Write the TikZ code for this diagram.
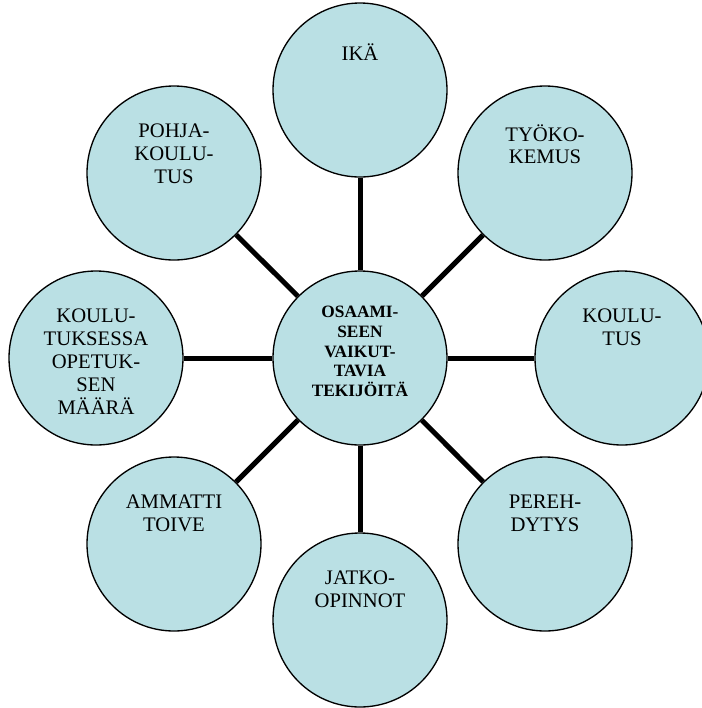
\documentclass[tikz,border=0pt]{standalone}
\usepackage{fontspec}
\setmainfont{Liberation Serif}
\usetikzlibrary{positioning,backgrounds}
\definecolor{bubfill}{RGB}{186,224,228}
\tikzset{
  bub/.style={circle, draw, line width=1pt, fill=bubfill, minimum size=130.5pt, inner sep=0pt},
  lbl/.style={font=\fontsize{15.5}{17.2}\selectfont, align=center, inner sep=0pt},
  hublbl/.style={font=\fontsize{13}{14.8}\selectfont\bfseries, align=center, inner sep=0pt},
  spoke/.style={line width=3.75pt},
}

\begin{document}
\begin{tikzpicture}[x=0.75pt, y=-0.75pt]
\useasboundingbox (0,0) rectangle (701,708);

% circles
\node[bub] (hub) at (360,358) {};
\node[bub] (ika) at (360,90) {};
\node[bub] (tyo) at (545,173) {};
\node[bub] (kou) at (622,358) {};
\node[bub] (pere) at (545,544) {};
\node[bub] (jat) at (360,620) {};
\node[bub] (amm) at (174,544) {};
\node[bub] (ope) at (96,358) {};
\node[bub] (poh) at (174,173) {};

% texts
\node[hublbl, below=26.6pt of hub.north] (hubT) {OSAAMI-\\SEEN\\VAIKUT-\\TAVIA\\TEKIJÖITÄ};
\node[lbl, below=30.5pt of ika.north] (ikaT) {IKÄ};
\node[lbl, below=29pt of tyo.north] (tyoT) {TYÖKO-\\KEMUS};
\node[lbl, below=29pt of kou.north] (kouT) {KOULU-\\TUS};
\node[lbl, below=29pt of pere.north] (pereT) {PEREH-\\DYTYS};
\node[lbl, below=29pt of jat.north] (jatT) {JATKO-\\OPINNOT};
\node[lbl, below=29pt of amm.north] (ammT) {AMMATTI\\TOIVE};
\node[lbl, below=29pt of ope.north] (opeT) {KOULU-\\TUKSESSA\\OPETUK-\\SEN\\MÄÄRÄ};
\node[lbl, below=29pt of poh.north] (pohT) {POHJA-\\KOULU-\\TUS};

% spokes
\begin{scope}[on background layer]
\foreach \n in {ika,tyo,kou,pere,jat,amm,ope,poh} \draw[spoke] (hub) -- (\n);
\end{scope}

\end{tikzpicture}
\end{document}
